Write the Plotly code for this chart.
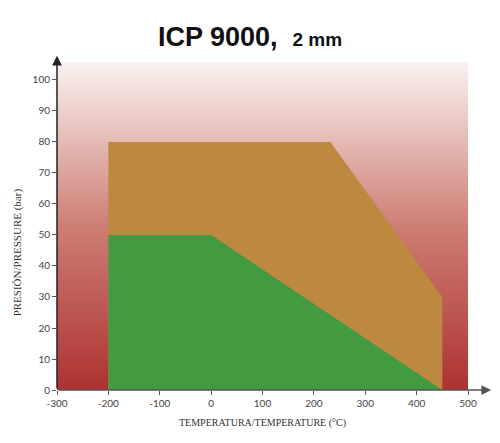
import plotly.graph_objects as go

# Data
x_range = [-300, 500]
y_range = [0, 105.8]
x_ticks = [-300, -200, -100, 0, 100, 200, 300, 400, 500]
x_ticklabels = ["-300", "-200", "-100", "0", "100", "200", "300", "400", "500"]
y_ticks = [0, 10, 20, 30, 40, 50, 60, 70, 80, 90, 100]

orange_t = [-200, -200, 232, 450, 450]
orange_p = [0, 80, 80, 30, 0]
green_t = [-200, -200, 0, 450]
green_p = [0, 50, 50, 0]

fig = go.Figure()

# gradient background
fig.add_trace(go.Scatter(
    x=[x_range[0], x_range[1], x_range[1], x_range[0], x_range[0]],
    y=[y_range[0], y_range[0], y_range[1], y_range[1], y_range[0]],
    mode="lines", line=dict(width=0), fill="toself",
    fillgradient=dict(type="vertical", start=0, stop=y_range[1],
                      colorscale=[[0, "#ad3232"], [0.5, "#cd7e74"], [1, "#faf3f1"]]),
    hoverinfo="skip", showlegend=False))

fig.add_trace(go.Scatter(x=orange_t, y=orange_p, mode="lines", line=dict(width=0),
                         fill="toself", fillcolor="#bd883f", hoverinfo="skip", showlegend=False))
fig.add_trace(go.Scatter(x=green_t, y=green_p, mode="lines", line=dict(width=0),
                         fill="toself", fillcolor="#439a40", hoverinfo="skip", showlegend=False))

tickfont = dict(family="Lato, DejaVu Sans", size=10, color="#444")
fig.update_xaxes(range=x_range, tickvals=x_ticks, ticktext=x_ticklabels, ticks="outside", ticklen=4,
                 tickcolor="#555", showgrid=False, zeroline=False, showline=False, tickfont=tickfont)
fig.update_yaxes(range=y_range, tickvals=y_ticks, ticks="outside", ticklen=4, tickcolor="#555",
                 showgrid=False, zeroline=False, showline=False, tickfont=tickfont)

# axis arrows
fig.add_annotation(x=545, y=0, ax=-300, ay=0, xref="x", yref="y", axref="x", ayref="y",
                   showarrow=True, arrowhead=2, arrowsize=1.3, arrowwidth=1.5, arrowcolor="#555", text="")
fig.add_annotation(x=-300, y=107.8, ax=-300, ay=0, xref="x", yref="y", axref="x", ayref="y",
                   showarrow=True, arrowhead=2, arrowsize=1.3, arrowwidth=1.5, arrowcolor="#222", text="")

fig.add_annotation(text="TEMPERATURA/TEMPERATURE (°C)", x=0.5, y=-0.1, xref="paper", yref="paper",
                   yanchor="middle", showarrow=False,
                   font=dict(family="Liberation Serif, DejaVu Serif", size=10, color="#333"))
fig.add_annotation(text="PRESIÓN/PRESSURE (bar)", x=-0.097, y=0.42, xref="paper", yref="paper",
                   textangle=-90, showarrow=False, xanchor="center", yanchor="middle",
                   font=dict(family="Liberation Serif, DejaVu Serif", size=11, color="#333"))

fig.update_layout(
    width=500, height=443,
    margin=dict(l=49, r=40, t=54, b=61),
    paper_bgcolor="white", plot_bgcolor="white",
    title=dict(text="<b>ICP 9000,</b>  <b><span style='font-size:19px'>2 mm</span></b>",
               x=0.484, xref="container", xanchor="center",
               y=1 - 29 / 443, yref="container", yanchor="middle",
               font=dict(family="Liberation Sans, Arial", size=27, color="#111")),
    showlegend=False,
)

fig.write_html("out.html")
